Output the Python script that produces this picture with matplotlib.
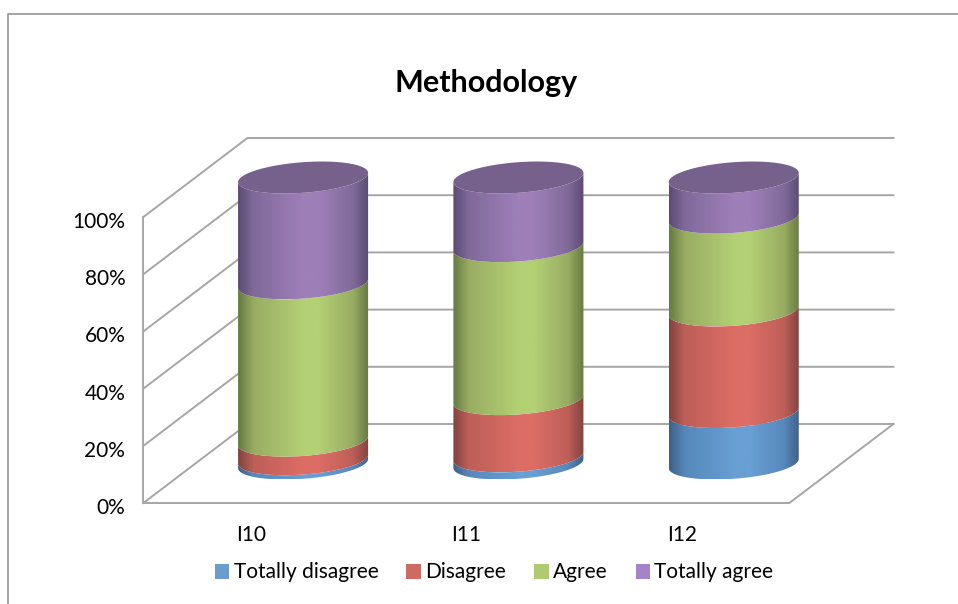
import numpy as np
import matplotlib
matplotlib.use('Agg')
import matplotlib.pyplot as plt
from matplotlib.colors import LinearSegmentedColormap
from matplotlib.lines import Line2D
from matplotlib.patches import Patch, Polygon
from matplotlib.transforms import ScaledTranslation

plt.rcParams['font.family'] = ['Lato', 'DejaVu Sans']

# values
items = ['I10', 'I11', 'I12']
totally_disagree = [1.5, 2.5, 18]
disagree = [6.5, 20, 35.5]
agree = [55, 53.5, 32.5]
totally_agree = [37, 24, 14]
y_ticks = [0, 20, 40, 60, 80, 100]

series = [totally_disagree, disagree, agree, totally_agree]
names = ['Totally disagree', 'Disagree', 'Agree', 'Totally agree']
legend_colors = ['#6c9ccf', '#cf6a63', '#b0ca72', '#a583c8']
# dark edge, middle, light centre of each cylinder part
shades = [('#3f5f85', '#5688bb', '#689fd4'),
          ('#824340', '#bd5f58', '#dc6d65'),
          ('#677a42', '#98ac62', '#b3d074'),
          ('#5c4a73', '#806a9a', '#9e7fb8')]
top_color = '#76608c'
grid_color = '#a6a6a6'

W, H = 958, 604
# 3d look, in data units
depth_x = 104 / 215.3
depth_y = 79 / 2.86
rx = 65 / 215.3
ry = 15.3 / 2.86
tilt = 4.6 / 2.86

fig = plt.figure(figsize=(W / 100, H / 100), dpi=100)
ax = fig.add_axes([143.4 / W, 1 - 503 / H, 646 / W, 286 / H])
ax.patch.set_visible(False)


def arc(cx, y, t):
    return cx + rx * np.cos(t), y + ry * np.sin(t) + tilt * np.cos(t)


# chart frame
fig.add_artist(Line2D([8 / W, 8 / W, 1], [0, 1 - 13.5 / H, 1 - 13.5 / H],
                      color='#8c8c8c', lw=1.1))

# walls and floor
for p in y_ticks:
    ax.plot([-0.5, -0.5 + depth_x, 2.5 + depth_x], [p, p + depth_y, p + depth_y],
            color=grid_color, lw=1.4, clip_on=False, zorder=1)
ax.plot([2.5, 2.5 + depth_x], [0, depth_y], color=grid_color, lw=1.4, clip_on=False, zorder=1)

# cylinders, bottom part first
front = np.linspace(np.pi, 2 * np.pi, 80)
for i in range(len(items)):
    cx = i + depth_x / 2
    base = depth_y / 2
    for j, values in enumerate(series):
        top = base + values[i]
        xb, yb = arc(cx, base, front)
        xt, yt = arc(cx, top, front)
        verts = np.vstack([np.column_stack([xb, yb]), np.column_stack([xt, yt])[::-1]])
        poly = Polygon(verts, closed=True, transform=ax.transData, fc='none', ec='none',
                       clip_on=False)
        ax.add_patch(poly)
        cmap = LinearSegmentedColormap.from_list(
            'c', [(0, shades[j][0]), (0.12, shades[j][1]), (0.5, shades[j][2]),
                  (0.62, shades[j][2]), (0.88, shades[j][1]), (1, shades[j][0])])
        im = ax.imshow(np.linspace(0, 1, 256)[None, :], cmap=cmap, aspect='auto',
                       extent=[cx - rx, cx + rx, verts[:, 1].min(), verts[:, 1].max()],
                       zorder=3 + j, interpolation='bilinear')
        im.set_clip_box(fig.bbox)  # cylinders stand out of the front plane box
        im.set_clip_path(poly)
        base = top
    t = np.linspace(0, 2 * np.pi, 160)
    xt, yt = arc(cx, base, t)
    ax.fill(xt, yt, color=top_color, lw=0, clip_on=False, zorder=8)

ax.set_xlim(-0.5, 2.5)
ax.set_ylim(0, 100)
ax.spines['top'].set_visible(False)
ax.spines['right'].set_visible(False)
for side in ['left', 'bottom']:
    ax.spines[side].set_color(grid_color)
    ax.spines[side].set_linewidth(1.4)
ax.set_xticks(range(len(items)))
ax.set_xticklabels(items, fontsize=15)
ax.set_yticks(y_ticks)
ax.set_yticklabels([f'{p}%' for p in y_ticks], fontsize=15)
ax.tick_params(axis='y', length=0, pad=13)
ax.tick_params(axis='x', length=0, pad=16)
# labels sit a little under their lines
shift = ScaledTranslation(0, -3 / 100, fig.dpi_scale_trans)
for lab in ax.get_yticklabels():
    lab.set_transform(lab.get_transform() + shift)

fig.text(486 / W, 1 - 83 / H, 'Methodology', fontsize=22, fontweight='bold',
         ha='center', va='center')

handles = [Patch(fc=c, ec='none') for c in legend_colors]
fig.legend(handles, names, ncol=4, loc='center', bbox_to_anchor=(494 / W, 1 - 572.5 / H),
           frameon=False, fontsize=15, handlelength=0.7, handleheight=0.7,
           handletextpad=0.2, columnspacing=1.35, borderpad=0)

fig.savefig('out.png', dpi=100)
